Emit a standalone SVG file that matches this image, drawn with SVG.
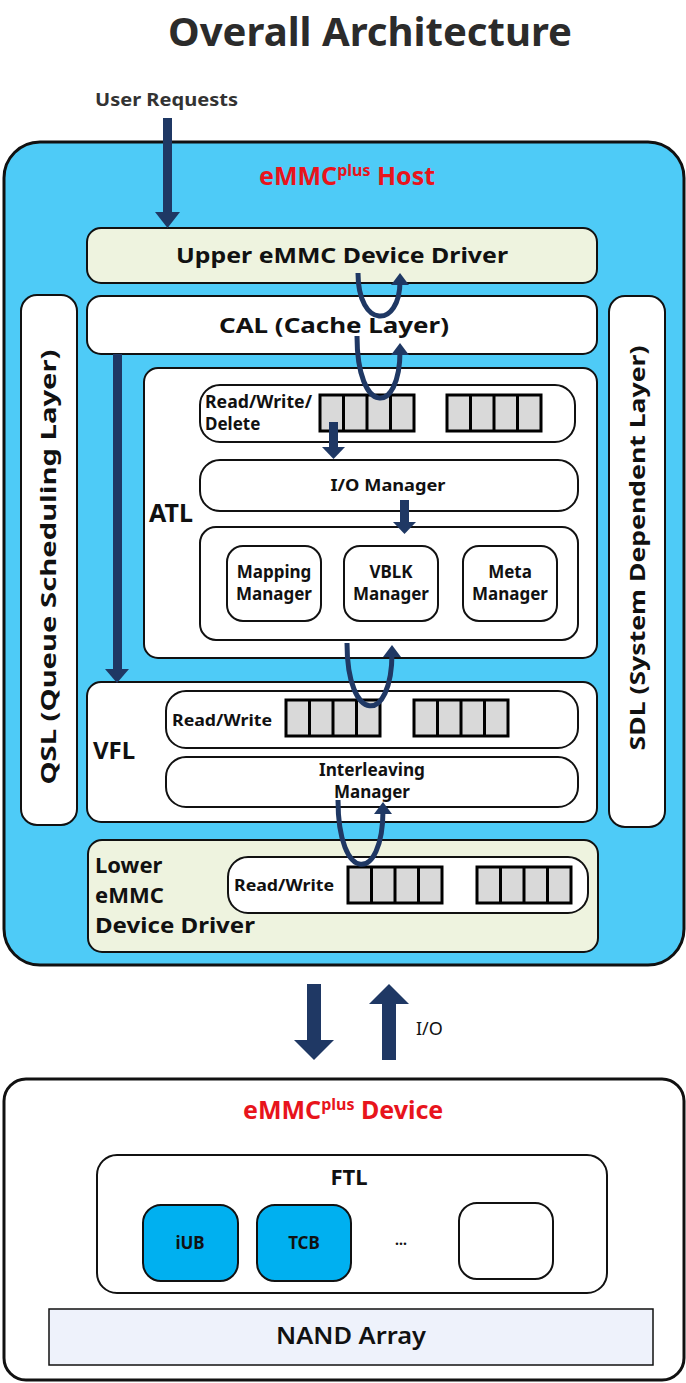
<svg xmlns="http://www.w3.org/2000/svg" width="686" height="1383" viewBox="0 0 686 1383">
<style>
text{font-family:"Noto Sans","Open Sans","Liberation Sans",sans-serif;fill:#111}
.b{font-weight:bold}
.box{fill:#fff;stroke:#111;stroke-width:2}
.grn{fill:#eef3df;stroke:#111;stroke-width:2}
.q{fill:#d9d9d9;stroke:#000;stroke-width:3}
.ql{stroke:#000;stroke-width:3}
.u{fill:none;stroke:#1f3864;stroke-width:5}
.nv{fill:#1f3864}
.red{fill:#e8141c;font-weight:bold}
.c{text-anchor:middle}
</style>
<defs>
<g id="queue">
<rect class="q" x="0" y="0" width="94" height="36"/>
<line class="ql" x1="23.5" y1="0" x2="23.5" y2="36"/>
<line class="ql" x1="47" y1="0" x2="47" y2="36"/>
<line class="ql" x1="70.5" y1="0" x2="70.5" y2="36"/>
</g>
</defs>
<rect width="686" height="1383" fill="#fff"/>
<g id="title">
<text class="b c" x="370" y="46" font-size="40" textLength="404" lengthAdjust="spacingAndGlyphs" style="fill:#2b2b2b">Overall Architecture</text>
</g>
<g id="user-requests">
<text class="b" x="95" y="106" font-size="18" textLength="143" lengthAdjust="spacingAndGlyphs" style="fill:#333">User Requests</text>
</g>
<g id="host">
<rect x="4" y="142" width="680" height="823" rx="36" fill="#4ecbf7" stroke="#111" stroke-width="3"/>
<text class="red" x="259" y="185" font-size="25">eMMC<tspan font-size="16" dy="-9">plus</tspan><tspan dy="9"> Host</tspan></text>
</g>
<g id="upper-driver">
<rect class="grn" x="87" y="228" width="510" height="55" rx="14"/>
<text class="b c" x="342" y="263" font-size="22" textLength="332" lengthAdjust="spacingAndGlyphs">Upper eMMC Device Driver</text>
</g>
<g id="cal">
<rect class="box" x="87" y="296" width="510" height="58" rx="14"/>
<text class="b c" x="334" y="333" font-size="22" textLength="230" lengthAdjust="spacingAndGlyphs">CAL (Cache Layer)</text>
</g>
<g id="qsl">
<rect class="box" x="21" y="295" width="56" height="530" rx="16"/>
<text class="b c" transform="translate(56,567) rotate(-90)" font-size="21" textLength="435" lengthAdjust="spacingAndGlyphs">QSL (Queue Scheduling Layer)</text>
</g>
<g id="sdl">
<rect class="box" x="609" y="296" width="56" height="531" rx="16"/>
<text class="b c" transform="translate(645,548) rotate(-90)" font-size="21" textLength="405" lengthAdjust="spacingAndGlyphs">SDL (System Dependent Layer)</text>
</g>
<g id="atl">
<rect class="box" x="144" y="368" width="453" height="290" rx="14"/>
<text class="b" x="149" y="522" font-size="25">ATL</text>
</g>
<g id="atl-rwd">
<rect class="box" x="200" y="385" width="375" height="57" rx="20"/>
<text class="b" x="205" y="408" font-size="17" textLength="107" lengthAdjust="spacingAndGlyphs">Read/Write/</text>
<text class="b" x="205" y="430" font-size="17">Delete</text>
<use href="#queue" x="320" y="395"/>
<use href="#queue" x="447" y="395"/>
</g>
<g id="io-manager">
<rect class="box" x="200" y="460" width="378" height="51" rx="20"/>
<text class="b c" x="388" y="491" font-size="16" textLength="115" lengthAdjust="spacingAndGlyphs">I/O Manager</text>
</g>
<g id="managers">
<rect class="box" x="200" y="527" width="378" height="113" rx="16"/>
</g>
<g id="mapping-manager">
<rect class="box" x="227" y="546" width="94" height="75" rx="16"/>
<text class="b c" x="274" y="578" font-size="17">Mapping</text>
<text class="b c" x="274" y="600" font-size="17">Manager</text>
</g>
<g id="vblk-manager">
<rect class="box" x="344" y="546" width="94" height="75" rx="16"/>
<text class="b c" x="391" y="578" font-size="17">VBLK</text>
<text class="b c" x="391" y="600" font-size="17">Manager</text>
</g>
<g id="meta-manager">
<rect class="box" x="463" y="546" width="94" height="75" rx="16"/>
<text class="b c" x="510" y="578" font-size="17">Meta</text>
<text class="b c" x="510" y="600" font-size="17">Manager</text>
</g>
<g id="vfl">
<rect class="box" x="87" y="682" width="510" height="140" rx="14"/>
<text class="b" x="93" y="759" font-size="24">VFL</text>
</g>
<g id="vfl-rw">
<rect class="box" x="166" y="691" width="412" height="57" rx="20"/>
<text class="b" x="172" y="726" font-size="16" textLength="100" lengthAdjust="spacingAndGlyphs">Read/Write</text>
<use href="#queue" x="286" y="700"/>
<use href="#queue" x="414" y="700"/>
</g>
<g id="interleaving">
<rect class="box" x="166" y="757" width="412" height="50" rx="20"/>
<text class="b c" x="372" y="776" font-size="17" textLength="106" lengthAdjust="spacingAndGlyphs">Interleaving</text>
<text class="b c" x="372" y="798" font-size="17">Manager</text>
</g>
<g id="lower-driver">
<rect class="grn" x="88" y="840" width="510" height="112" rx="14"/>
<text class="b" x="95" y="873" font-size="22">Lower</text>
<text class="b" x="95" y="903" font-size="22">eMMC</text>
<text class="b" x="95" y="933" font-size="22" textLength="160" lengthAdjust="spacingAndGlyphs">Device Driver</text>
</g>
<g id="lower-rw">
<rect class="box" x="228" y="857" width="360" height="56" rx="20"/>
<text class="b" x="234" y="891" font-size="16" textLength="100" lengthAdjust="spacingAndGlyphs">Read/Write</text>
<use href="#queue" x="348" y="867"/>
<use href="#queue" x="477" y="867"/>
</g>
<g id="device">
<rect x="4" y="1079" width="680" height="301" rx="22" fill="#fff" stroke="#111" stroke-width="3"/>
<text class="red" x="243" y="1119" font-size="25">eMMC<tspan font-size="16" dy="-9">plus</tspan><tspan dy="9"> Device</tspan></text>
</g>
<g id="ftl">
<rect class="box" x="97" y="1155" width="510" height="138" rx="20"/>
<text class="b c" x="349" y="1185" font-size="22">FTL</text>
</g>
<g id="iub">
<rect x="143" y="1205" width="95" height="76" rx="18" fill="#00b0f0" stroke="#111" stroke-width="2"/>
<text class="b c" x="190" y="1249" font-size="17">iUB</text>
</g>
<g id="tcb">
<rect x="257" y="1205" width="94" height="76" rx="18" fill="#00b0f0" stroke="#111" stroke-width="2"/>
<text class="b c" x="304" y="1249" font-size="17">TCB</text>
</g>
<g id="ellipsis">
<text class="b c" x="401" y="1245" font-size="14">...</text>
</g>
<g id="empty-box">
<rect class="box" x="459" y="1203" width="94" height="76" rx="18"/>
</g>
<g id="nand">
<rect x="49" y="1309" width="604" height="56" fill="#eef2fb" stroke="#111" stroke-width="1.5"/>
<text class="c" x="351" y="1344" font-size="24" textLength="150" lengthAdjust="spacingAndGlyphs" style="font-weight:600">NAND Array</text>
</g>
<g id="connectors">
<rect class="nv" x="163" y="118" width="9" height="96"/>
<polygon class="nv" points="155,212 180,212 167.5,228"/>
<rect class="nv" x="113" y="354" width="9" height="318"/>
<polygon class="nv" points="105,669 129,669 117,683"/>
<rect class="nv" x="329" y="422" width="9" height="27"/>
<polygon class="nv" points="322,447 345,447 333.5,459"/>
<rect class="nv" x="400" y="500" width="9" height="24"/>
<polygon class="nv" points="393,522 416,522 404.5,534"/>
<path class="u" d="M358,273 C358,329 400,329 400,281"/>
<polygon class="nv" points="400,273 391,285 409,285"/>
<path class="u" d="M357,336 C357,416 400,416 400,351"/>
<polygon class="nv" points="400,343 391,355 409,355"/>
<path class="u" d="M347,643 C347,725 392,725 392,653"/>
<polygon class="nv" points="392,645 383,657 401,657"/>
<path class="u" d="M338,800 C338,884 383,884 383,810"/>
<polygon class="nv" points="383,802 374,814 392,814"/>
<rect class="nv" x="307" y="984" width="14" height="58"/>
<polygon class="nv" points="294,1040 334,1040 314,1060"/>
<rect class="nv" x="382" y="1002" width="14" height="58"/>
<polygon class="nv" points="369,1004 409,1004 389,984"/>
</g>
<g id="io-label">
<text x="416" y="1035" font-size="18">I/O</text>
</g>
</svg>
